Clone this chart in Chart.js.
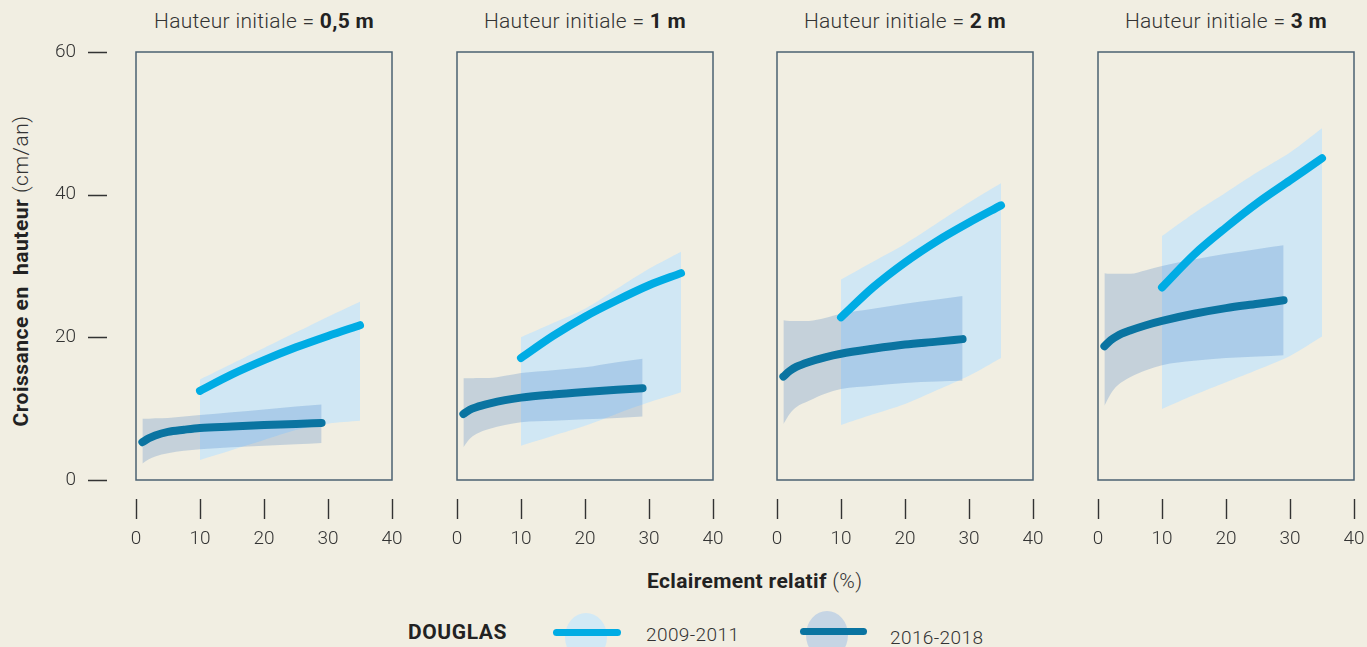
<!DOCTYPE html>
<html>
<head>
<meta charset="utf-8">
<script src="https://cdn.jsdelivr.net/npm/chart.js@4.4.1/dist/chart.umd.min.js"></script>
<style>
  html, body { margin: 0; padding: 0; }
  body { width: 1367px; height: 647px; background: #f1eee2; position: relative; overflow: hidden;
         font-family: 'Roboto', 'Noto Sans', sans-serif; color: #333; }
  canvas { position: absolute; }
  .ptitle { position: absolute; top: 9px; width: 256px; text-align: center; font-size: 21px; font-weight: 300;
            letter-spacing: 0.3px; white-space: nowrap; }
  .ptitle b { font-weight: 700; color: #222; }
  #ytitle { position: absolute; left: 21px; top: 271px; transform: translate(-50%, -50%) rotate(-90deg);
            font-size: 21px; letter-spacing: 0.5px; white-space: nowrap; font-weight: 300; }
  #ytitle b { font-weight: 700; color: #222; }
  #xtitle { position: absolute; left: 647px; top: 569px; font-size: 21px; letter-spacing: 0.35px;
            white-space: nowrap; font-weight: 300; }
  #xtitle b { font-weight: 700; color: #222; }
  .lg { position: absolute; white-space: nowrap; }
  .ell { position: absolute; border-radius: 50%; }
  .bar { position: absolute; height: 7px; border-radius: 4px; }
</style>
</head>
<body>
<div id="ytitle"><b>Croissance en&nbsp; hauteur</b> (cm/an)</div>
<div id="xtitle"><b>Eclairement relatif</b> (%)</div>

<div class="lg" style="left:408px; top:620px; font-size:21px; letter-spacing:0.6px; font-weight:700; color:#222;">DOUGLAS</div>
<div class="ell" style="left:565px; top:613px; width:42px; height:48px; background:#d2e9f5;"></div>
<div class="bar" style="left:553px; top:629px; width:68px; background:#00ace4;"></div>
<div class="lg" style="left:646px; top:623px; font-size:19px; letter-spacing:0.4px; font-weight:300;">2009-2011</div>
<div class="ell" style="left:806px; top:611px; width:42px; height:48px; background:#c6d5e4;"></div>
<div class="bar" style="left:800px; top:628px; width:67px; background:#0a74a1;"></div>
<div class="lg" style="left:890px; top:626px; font-size:19px; letter-spacing:0.4px; font-weight:300;">2016-2018</div>

<script>
const panelTitles = ['0,5 m', '1 m', '2 m', '3 m'];
const boxLeft = [136, 457, 777, 1098];

const xTicks = [0, 10, 20, 30, 40];
const yTicks = [0, 20, 40, 60];

// 2016-2018 (dark) : x positions and values per panel
const xDark = [1, 2, 3, 5, 7.5, 10, 15, 20, 25, 29];
const darkMean = [
  [5.3, 5.85, 6.25, 6.75, 7.05, 7.3, 7.5, 7.7, 7.85, 8.0],
  [9.25, 9.85, 10.2, 10.7, 11.2, 11.55, 12.0, 12.35, 12.65, 12.85],
  [14.5, 15.3, 15.85, 16.55, 17.2, 17.7, 18.4, 19.0, 19.4, 19.75],
  [18.75, 19.6, 20.2, 20.95, 21.7, 22.3, 23.3, 24.1, 24.7, 25.2]
];
const darkUpper = [
  [8.6, 8.6, 8.65, 8.7, 8.9, 9.1, 9.5, 9.9, 10.3, 10.6],
  [14.25, 14.25, 14.3, 14.3, 14.6, 15.0, 15.4, 15.8, 16.5, 17.0],
  [22.4, 22.3, 22.3, 22.3, 22.7, 23.3, 24.0, 24.7, 25.3, 25.8],
  [29.0, 28.9, 28.9, 28.9, 29.4, 30.0, 30.9, 31.7, 32.4, 32.9]
];
const darkLower = [
  [2.3, 2.9, 3.3, 3.75, 4.1, 4.3, 4.6, 4.8, 5.0, 5.2],
  [4.6, 5.8, 6.45, 7.15, 7.7, 8.1, 8.3, 8.5, 8.7, 8.9],
  [7.85, 9.3, 10.2, 11.1, 12.1, 12.75, 13.2, 13.6, 13.8, 13.9],
  [10.4, 12.1, 13.2, 14.4, 15.4, 16.1, 16.7, 17.1, 17.3, 17.5]
];

// 2009-2011 (light)
const xLight = [10, 15, 20, 25, 30, 35];
const lightMean = [
  [12.5, 14.8, 16.8, 18.6, 20.2, 21.7],
  [17.1, 20.2, 22.9, 25.2, 27.3, 29.0],
  [22.8, 27.0, 30.5, 33.5, 36.1, 38.5],
  [27.0, 31.6, 35.4, 38.9, 42.0, 45.1]
];
const lightUpper = [
  [14.1, 16.3, 18.5, 20.7, 22.9, 25.0],
  [20.0, 22.0, 24.0, 26.8, 29.6, 32.0],
  [28.1, 30.6, 33.1, 36.0, 38.9, 41.6],
  [34.2, 37.4, 40.3, 43.2, 45.9, 49.3]
];
const lightLower = [
  [2.8, 4.2, 5.6, 7.0, 7.9, 8.3],
  [4.8, 6.2, 7.6, 9.3, 10.9, 12.3],
  [7.7, 9.2, 10.65, 12.6, 14.6, 17.1],
  [9.95, 11.9, 13.7, 15.5, 17.4, 20.1]
];

const lightLine = '#00ace4';
const darkLine = '#0a74a1';
const lightBand = 'rgba(196,228,250,0.75)';
const darkBand = 'rgba(40,110,190,0.22)';

Chart.defaults.font.family = "'Roboto', 'Noto Sans', sans-serif";
Chart.defaults.font.size = 19;
Chart.defaults.font.weight = 300;
Chart.defaults.color = '#333';

const pts = (xs, ys) => xs.map((x, i) => ({ x, y: ys[i] }));

// frame around the plot area and detached tick marks
const framePlugin = {
  id: 'frame',
  afterDatasetsDraw(chart, args, opts) {
    const { ctx, chartArea: a, scales: { x, y } } = chart;
    ctx.save();
    ctx.strokeStyle = '#4b6172';
    ctx.lineWidth = 1.5;
    ctx.strokeRect(a.left, a.top, a.width, a.height);
    ctx.strokeStyle = '#333';
    ctx.lineWidth = 1.4;
    ctx.beginPath();
    x.ticks.forEach(t => {
      const px = Math.round(x.getPixelForValue(t.value)) + 0.5;
      ctx.moveTo(px, a.bottom + 19);
      ctx.lineTo(px, a.bottom + 39);
    });
    if (opts.yMarks) {
      y.ticks.forEach(t => {
        const py = Math.round(y.getPixelForValue(t.value)) + 0.5;
        ctx.moveTo(a.left - 48, py);
        ctx.lineTo(a.left - 29, py);
      });
    }
    ctx.stroke();
    ctx.restore();
  }
};

const noPad = s => { s.paddingLeft = 0; s.paddingRight = 0; s.paddingTop = 0; s.paddingBottom = 0; };

panelTitles.forEach((title, i) => {
  const t = document.createElement('div');
  t.className = 'ptitle';
  t.style.left = boxLeft[i] + 'px';
  t.innerHTML = 'Hauteur initiale = <b>' + title + '</b>';
  document.body.appendChild(t);

  const canvas = document.createElement('canvas');
  canvas.width = 371;
  canvas.height = 520;
  canvas.style.left = (boxLeft[i] - 100) + 'px';
  canvas.style.top = '40px';
  document.body.appendChild(canvas);

  new Chart(canvas, {
    type: 'line',
    data: {
      datasets: [
        { // 0 light band upper
          data: pts(xLight, lightUpper[i]), borderWidth: 0, pointRadius: 0,
          backgroundColor: lightBand, fill: { target: 1 }, order: 4, tension: 0.3
        },
        { // 1 light band lower
          data: pts(xLight, lightLower[i]), borderWidth: 0, pointRadius: 0,
          fill: false, order: 4, tension: 0.3
        },
        { // 2 dark band upper
          data: pts(xDark, darkUpper[i]), borderWidth: 0, pointRadius: 0,
          backgroundColor: darkBand, fill: { target: 3 }, order: 3, cubicInterpolationMode: 'monotone'
        },
        { // 3 dark band lower
          data: pts(xDark, darkLower[i]), borderWidth: 0, pointRadius: 0,
          fill: false, order: 3, cubicInterpolationMode: 'monotone'
        },
        {
          label: '2009-2011', data: pts(xLight, lightMean[i]), borderColor: lightLine,
          borderWidth: 8, borderCapStyle: 'round', pointRadius: 0, fill: false, order: 1,
          cubicInterpolationMode: 'monotone'
        },
        {
          label: '2016-2018', data: pts(xDark, darkMean[i]), borderColor: darkLine,
          borderWidth: 8, borderCapStyle: 'round', pointRadius: 0, fill: false, order: 0,
          cubicInterpolationMode: 'monotone'
        }
      ]
    },
    options: {
      responsive: false,
      animation: false,
      devicePixelRatio: 1,
      layout: { padding: { top: 12, right: 15, left: 0, bottom: 0 } },
      plugins: { legend: { display: false }, tooltip: { enabled: false }, frame: { yMarks: i === 0 } },
      scales: {
        x: {
          type: 'linear', min: 0, max: 40,
          afterBuildTicks: s => { s.ticks = xTicks.map(v => ({ value: v })); },
          grid: { display: false, drawTicks: false },
          border: { display: false },
          ticks: { padding: 48, maxRotation: 0 },
          afterFit: s => { s.height = 80; noPad(s); }
        },
        y: {
          type: 'linear', min: 0, max: 60,
          afterBuildTicks: s => { s.ticks = yTicks.map(v => ({ value: v })); },
          grid: { display: false, drawTicks: false },
          border: { display: false },
          ticks: { padding: 60, display: i === 0 },
          afterFit: s => { s.width = 100; noPad(s); }
        }
      }
    },
    plugins: [framePlugin]
  });
});
</script>
</body>
</html>
